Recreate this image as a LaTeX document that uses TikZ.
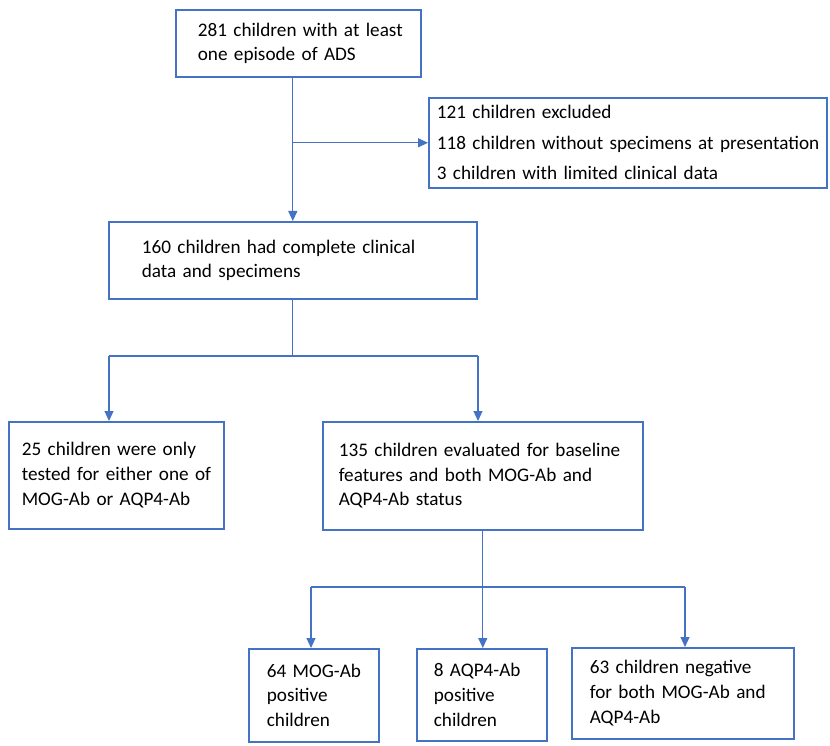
\documentclass[tikz,border=0pt]{standalone}
\usepackage{fontspec}
\setmainfont{Carlito}
\definecolor{flowblue}{RGB}{68, 114, 196}
\usetikzlibrary{arrows.meta, positioning}
\tikzset{
    flowbox/.style={rectangle, draw=flowblue, line width=1.6pt, anchor=north west,
                    align=left, inner ysep=0pt, font=\fontsize{19.2}{24.8}\selectfont,
                    execute at begin node={\rightskip=0pt plus 1fil minus 100pt}},
    boxsize/.style n args={3}{minimum width=#1pt, minimum height=#2pt,
                    inner xsep=#3pt, text width={#1pt-2*#3pt}},
    flowline/.style={line width=1.2pt, flowblue},
    flowarrow/.style={-{Triangle[length=10pt, width=9pt]}, line width=1.2pt, flowblue},
}

\begin{document}
\begin{tikzpicture}[x=1pt, y=-1pt]
    \useasboundingbox (0,0) rectangle (830,746);

    % Boxes
    \node[flowbox, boxsize={245}{67}{22}] (start) at (175,9)
        {281 children with at least\\one episode of ADS};
    \node[flowbox, boxsize={398}{90}{8}, font=\fontsize{19.2}{30.5}\selectfont] (excl) at (428,97)
        {121 children excluded\\118 children without specimens at presentation\\3 children with limited clinical data};
    \node[flowbox, boxsize={368}{77}{33}] (full) at (108,221)
        {160 children had complete clinical\\data and specimens};
    \node[flowbox, boxsize={215}{107}{13}] (partial) at (8,421)
        {25 children were only\\tested for either one of\\MOG-Ab or AQP4-Ab};
    \node[flowbox, boxsize={320}{108}{16}] (both) at (322,421)
        {135 children evaluated for baseline\\features and both MOG-Ab and\\AQP4-Ab status};
    \node[flowbox, boxsize={130}{93}{18}] (mog) at (248,648)
        {64 MOG-Ab\\positive\\children};
    \node[flowbox, boxsize={130}{92}{17}] (aqp) at (416,648)
        {8 AQP4-Ab\\positive\\children};
    \node[flowbox, boxsize={222}{91}{18}] (neg) at (571,647)
        {63 children negative\\for both MOG-Ab and\\AQP4-Ab};

    % Split points
    \coordinate (tee2l) at (109,356);
    \coordinate (tee2r) at (478,356);
    \coordinate (tee3l) at (311,587);
    \coordinate (tee3r) at (685,587);

    % Connectors
    \draw[flowarrow] (full.north |- start.south) -- (full.north);
    \draw[flowarrow] (full.north |- excl.west) -- (excl.west);

    \draw[flowline] (full.south) -- (full.south |- tee2l);
    \draw[flowline] (tee2l) -- (tee2r);
    \draw[flowarrow] (tee2l) -- (tee2l |- partial.north);
    \draw[flowarrow] (tee2r) -- (tee2r |- both.north);

    \draw[flowline] (both.south) -- (both.south |- tee3l);
    \draw[flowline] (tee3l) -- (tee3r);
    \draw[flowarrow] (tee3l) -- (tee3l |- mog.north);
    \draw[flowarrow] (both.south |- tee3l) -- (both.south |- aqp.north);
    \draw[flowarrow] (tee3r) -- (tee3r |- neg.north);
\end{tikzpicture}
\end{document}
